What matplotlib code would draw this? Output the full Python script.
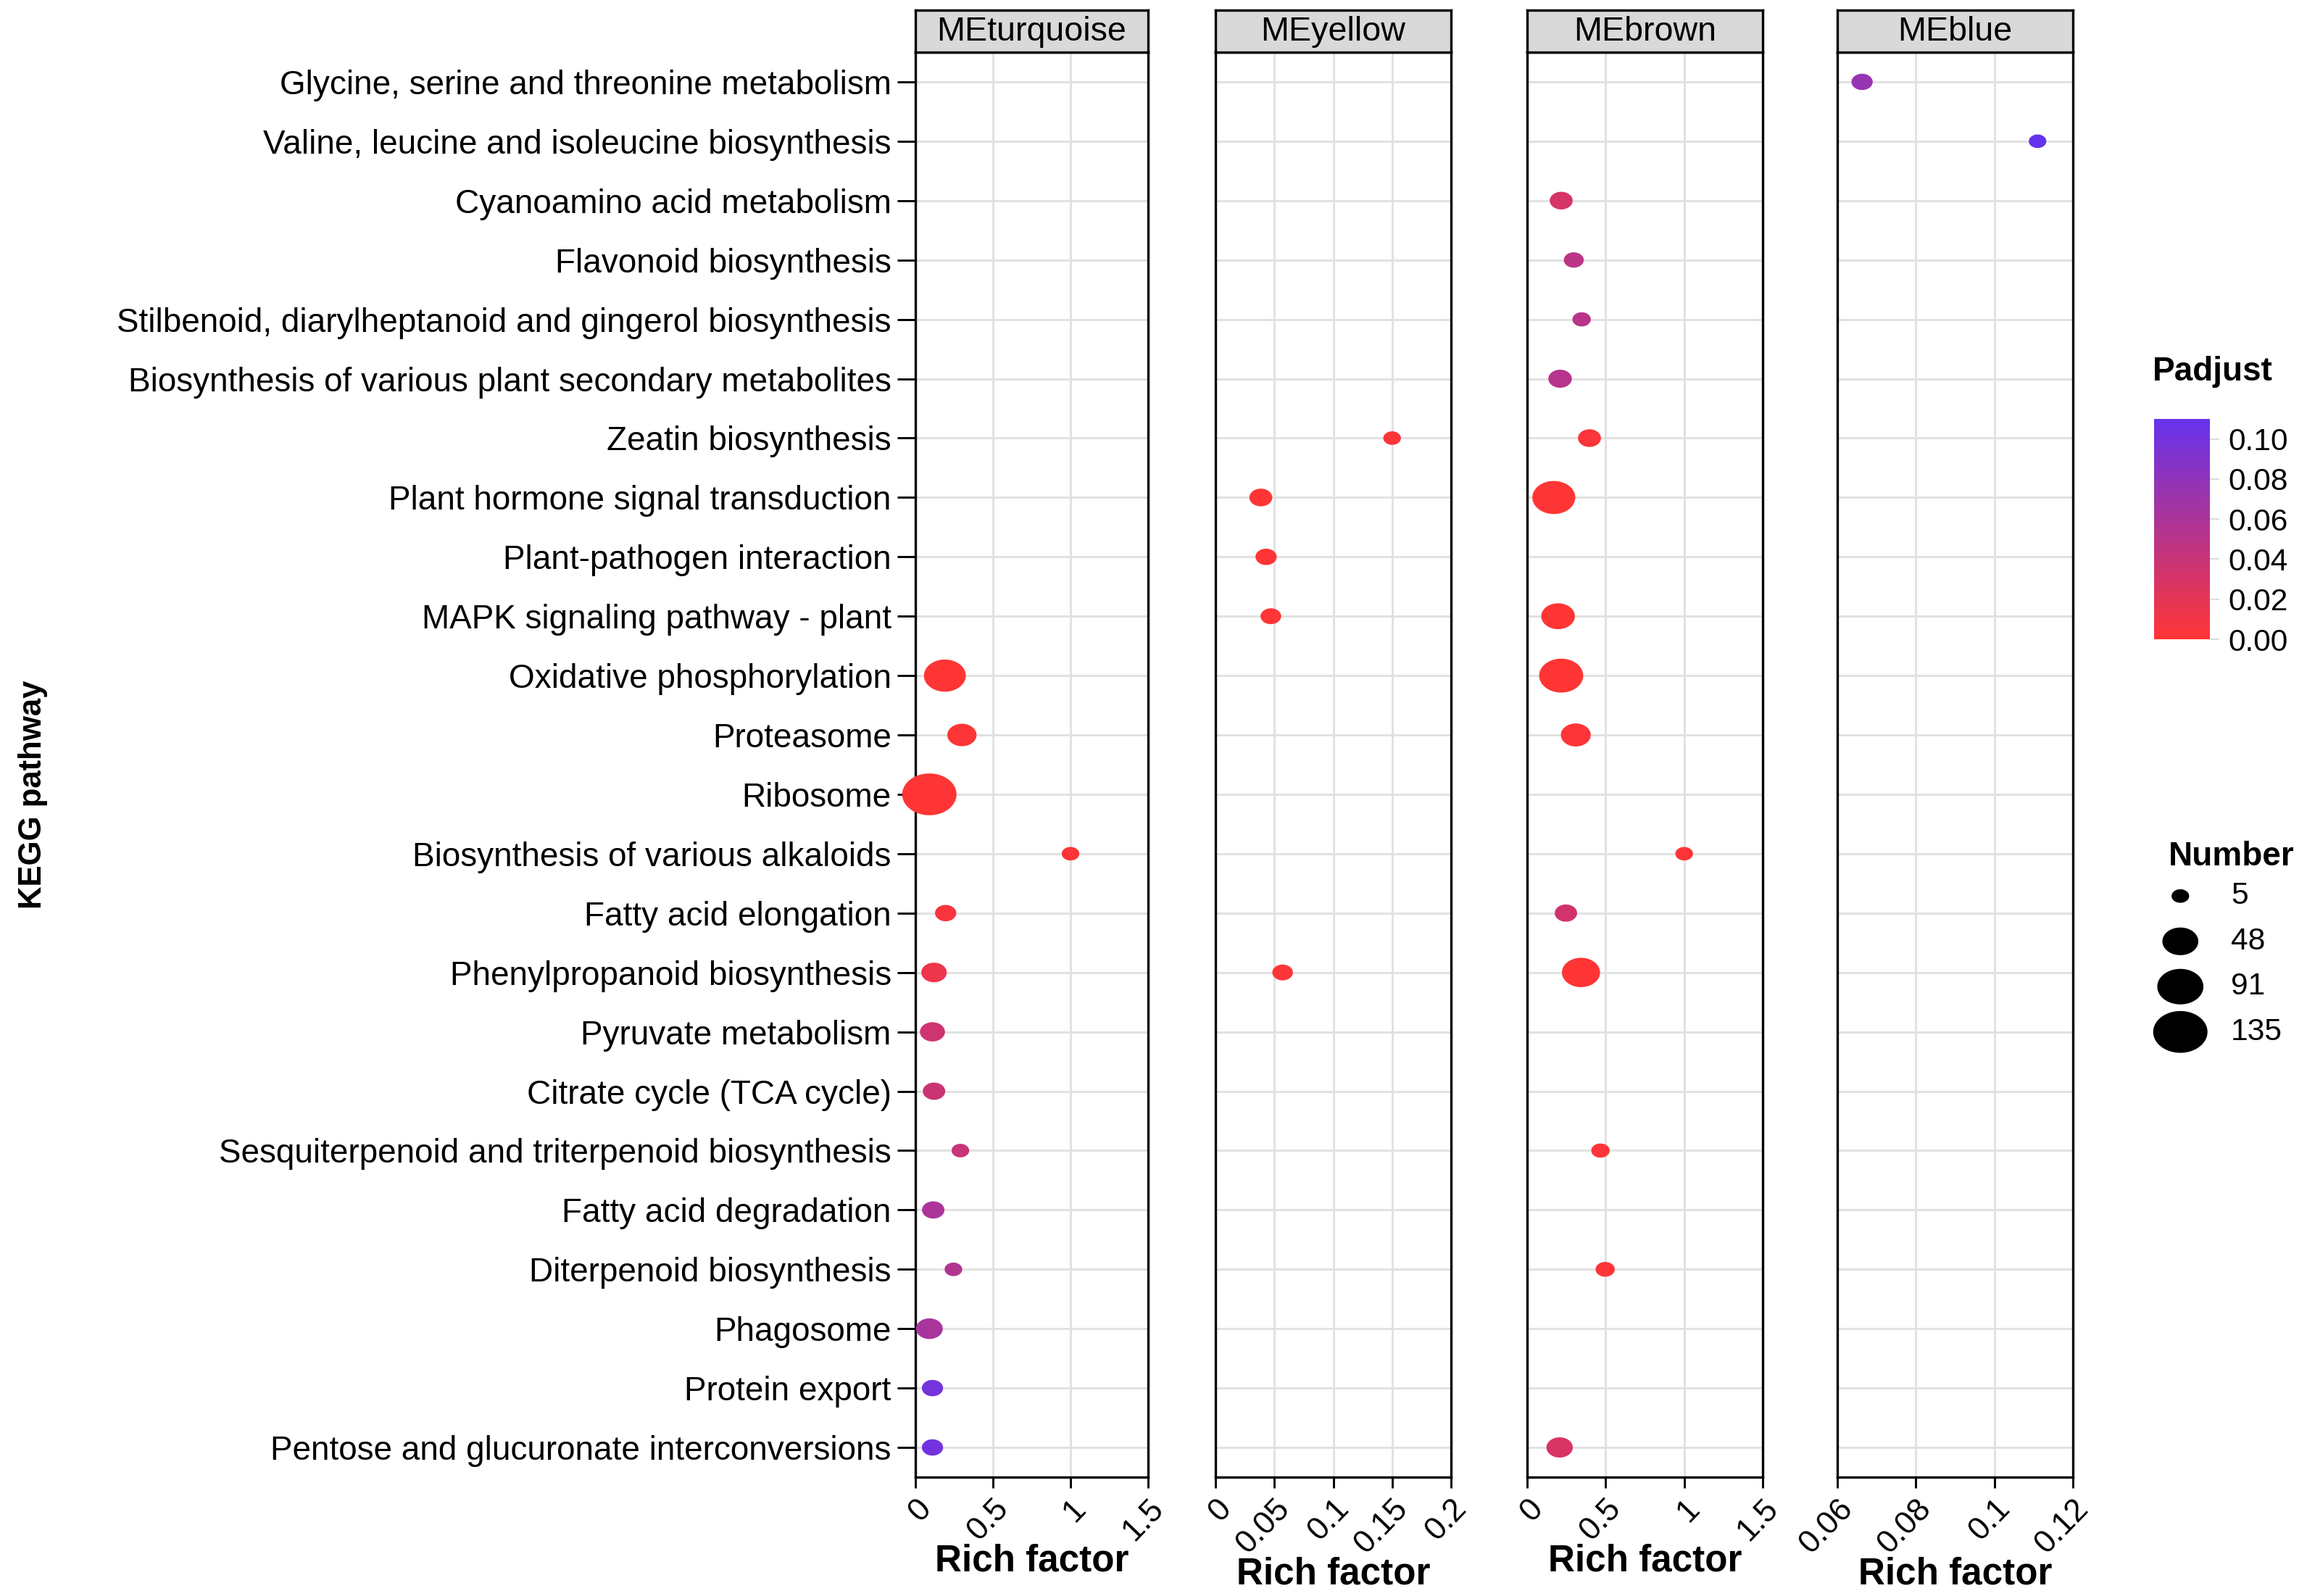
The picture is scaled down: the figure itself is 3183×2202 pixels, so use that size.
import matplotlib
matplotlib.use('Agg')
import matplotlib.pyplot as plt
import numpy as np
from matplotlib.path import Path
from matplotlib.colors import LinearSegmentedColormap, Normalize
from matplotlib.colorbar import ColorbarBase

plt.rcParams['font.family'] = ['Liberation Sans', 'DejaVu Sans']

# ---------------- data ----------------
pathways = [
    "Glycine, serine and threonine metabolism",
    "Valine, leucine and isoleucine biosynthesis",
    "Cyanoamino acid metabolism",
    "Flavonoid biosynthesis",
    "Stilbenoid, diarylheptanoid and gingerol biosynthesis",
    "Biosynthesis of various plant secondary metabolites",
    "Zeatin biosynthesis",
    "Plant hormone signal transduction",
    "Plant-pathogen interaction",
    "MAPK signaling pathway - plant",
    "Oxidative phosphorylation",
    "Proteasome",
    "Ribosome",
    "Biosynthesis of various alkaloids",
    "Fatty acid elongation",
    "Phenylpropanoid biosynthesis",
    "Pyruvate metabolism",
    "Citrate cycle (TCA cycle)",
    "Sesquiterpenoid and triterpenoid biosynthesis",
    "Fatty acid degradation",
    "Diterpenoid biosynthesis",
    "Phagosome",
    "Protein export",
    "Pentose and glucuronate interconversions",
]

modules = ["MEturquoise", "MEyellow", "MEbrown", "MEblue"]

turquoise_terms = ["Oxidative phosphorylation", "Proteasome", "Ribosome",
                   "Biosynthesis of various alkaloids", "Fatty acid elongation",
                   "Phenylpropanoid biosynthesis", "Pyruvate metabolism",
                   "Citrate cycle (TCA cycle)",
                   "Sesquiterpenoid and triterpenoid biosynthesis",
                   "Fatty acid degradation", "Diterpenoid biosynthesis",
                   "Phagosome", "Protein export",
                   "Pentose and glucuronate interconversions"]
turquoise_rich = [0.19, 0.30, 0.09, 1.00, 0.195, 0.12, 0.11, 0.12, 0.29, 0.115, 0.245, 0.09, 0.11, 0.11]
turquoise_count = [71, 27, 135, 5, 10, 18, 17, 12, 5, 12, 5, 21, 10, 10]
turquoise_padj = [0.000, 0.001, 0.000, 0.002, 0.005, 0.013, 0.035, 0.038, 0.040, 0.060, 0.055, 0.062, 0.100, 0.101]

yellow_terms = ["Zeatin biosynthesis", "Plant hormone signal transduction",
                "Plant-pathogen interaction", "MAPK signaling pathway - plant",
                "Phenylpropanoid biosynthesis"]
yellow_rich = [0.150, 0.0385, 0.043, 0.047, 0.057]
yellow_count = [5, 13, 10, 9, 9]
yellow_padj = [0.002, 0.000, 0.001, 0.001, 0.002]

brown_terms = ["Cyanoamino acid metabolism", "Flavonoid biosynthesis",
               "Stilbenoid, diarylheptanoid and gingerol biosynthesis",
               "Biosynthesis of various plant secondary metabolites",
               "Zeatin biosynthesis", "Plant hormone signal transduction",
               "MAPK signaling pathway - plant", "Oxidative phosphorylation",
               "Proteasome", "Biosynthesis of various alkaloids",
               "Fatty acid elongation", "Phenylpropanoid biosynthesis",
               "Sesquiterpenoid and triterpenoid biosynthesis",
               "Diterpenoid biosynthesis",
               "Pentose and glucuronate interconversions"]
brown_rich = [0.217, 0.297, 0.347, 0.21, 0.397, 0.17, 0.197, 0.217, 0.31, 1.00, 0.247, 0.343, 0.467, 0.497, 0.207]
brown_count = [13, 8, 6, 14, 13, 76, 40, 81, 29, 5, 12, 56, 6, 7, 20]
brown_padj = [0.030, 0.048, 0.050, 0.052, 0.003, 0.000, 0.000, 0.000, 0.002, 0.001, 0.033, 0.000, 0.002, 0.002, 0.028]

blue_terms = ["Glycine, serine and threonine metabolism",
              "Valine, leucine and isoleucine biosynthesis"]
blue_rich = [0.0663, 0.111]
blue_count = [10, 5]
blue_padj = [0.075, 0.110]

module_terms = [turquoise_terms, yellow_terms, brown_terms, blue_terms]
module_rich = [turquoise_rich, yellow_rich, brown_rich, blue_rich]
module_count = [turquoise_count, yellow_count, brown_count, blue_count]
module_padj = [turquoise_padj, yellow_padj, brown_padj, blue_padj]

x_limits = [(0, 1.5), (0, 0.2), (0, 1.5), (0.06, 0.12)]
x_ticks = [[0, 0.5, 1, 1.5], [0, 0.05, 0.1, 0.15, 0.2], [0, 0.5, 1, 1.5], [0.06, 0.08, 0.1, 0.12]]
x_ticklabels = [["0", "0.5", "1", "1.5"], ["0", "0.05", "0.1", "0.15", "0.2"],
                ["0", "0.5", "1", "1.5"], ["0.06", "0.08", "0.1", "0.12"]]

padj_ticks = [0.00, 0.02, 0.04, 0.06, 0.08, 0.10]
size_breaks = [5, 48, 91, 135]

# ---------------- layout helpers ----------------
W, H = 3183, 2202
DPI = 300
fig = plt.figure(figsize=(W / DPI, H / DPI), dpi=DPI)
fig.patch.set_facecolor('white')


def rect(x0, x1, y0, y1):
    return [x0 / W, 1 - y1 / H, (x1 - x0) / W, (y1 - y0) / H]


panel_x = [(1263, 1584), (1677, 2002), (2107, 2432), (2535, 2860)]
panel_top, panel_bottom = 72, 2038
strip_top = 14

theta = np.linspace(0, 2 * np.pi, 73)
ellipse = Path(np.column_stack([np.cos(theta), np.sin(theta) / 1.3]), closed=True)


def marker_area(n):
    w_px = 24.3 + 5.4 * (np.sqrt(np.asarray(n, float)) - np.sqrt(5))
    return (w_px * 72 / DPI) ** 2


cmap = LinearSegmentedColormap.from_list("padj", ["#FF3535", "#6633EC"])
all_padj = sum(module_padj, [])
norm = Normalize(vmin=0.0, vmax=max(all_padj))

grid_col = "#E1E1E1"
for i, mod in enumerate(modules):
    x0, x1 = panel_x[i]
    ax = fig.add_axes(rect(x0, x1, panel_top, panel_bottom))
    ax.set_xlim(*x_limits[i])
    ax.set_ylim(len(pathways) - 0.5, -0.5)
    ax.set_yticks(range(len(pathways)))
    ax.set_xticks(x_ticks[i])
    ax.grid(True, color=grid_col, lw=0.7)
    ax.set_axisbelow(True)
    ys = [pathways.index(t) for t in module_terms[i]]
    ax.scatter(module_rich[i], ys, s=marker_area(module_count[i]),
               c=module_padj[i], cmap=cmap, norm=norm, marker=ellipse,
               linewidths=0, clip_on=False, zorder=3)
    for sp in ax.spines.values():
        sp.set_linewidth(0.8)
        sp.set_color('black')
    if i == 0:
        ax.set_yticklabels(pathways, fontsize=11.0)
        ax.tick_params(axis='y', length=6, width=0.7, pad=2)
    else:
        ax.set_yticklabels([])
        ax.tick_params(axis='y', length=0)
    ax.set_xticklabels(x_ticklabels[i], fontsize=10.6)
    ax.tick_params(axis='x', length=3.5, width=0.7, pad=2)
    for lab in ax.get_xticklabels():
        lab.set_rotation(46)
        lab.set_ha('right')
        lab.set_va('top')
        lab.set_rotation_mode('anchor')
    ax.set_xlabel("Rich factor", fontsize=12.3, fontweight='bold', labelpad=-1)

    sax = fig.add_axes(rect(x0, x1, strip_top, panel_top))
    sax.set_facecolor('#D9D9D9')
    sax.set_xticks([])
    sax.set_yticks([])
    for sp in sax.spines.values():
        sp.set_linewidth(0.8)
    sax.text(0.5, 0.48, mod, ha='center', va='center', fontsize=11.2,
             transform=sax.transAxes)

fig.text(46 / W, 1 - 1096 / H, "KEGG pathway", rotation=90, ha='center',
         va='center', fontsize=10.5, fontweight='bold')

# ---------------- colour legend ----------------
fig.text(2970 / W, 1 - 513 / H, "Padjust", ha='left', va='center',
         fontsize=11, fontweight='bold')
cax = fig.add_axes(rect(2972, 3049, 578, 882))
cb = ColorbarBase(cax, cmap=cmap, norm=norm, ticks=padj_ticks)
cb.outline.set_visible(False)
cax.set_yticklabels(["%.2f" % t for t in padj_ticks], fontsize=10.2)
cax.tick_params(axis='y', length=3, width=0.5, color='#DDDDDD', pad=3)

# ---------------- size legend ----------------
fig.text(2992 / W, 1 - 1182 / H, "Number", ha='left', va='center',
         fontsize=11, fontweight='bold')
lax = fig.add_axes(rect(2950, 3183, 1205, 1455))
lax.set_xlim(0, 1)
lax.set_ylim(len(size_breaks) - 0.5, -0.5)
lax.axis('off')
lax.scatter([0.25] * len(size_breaks), range(len(size_breaks)),
            s=marker_area(size_breaks), marker=ellipse, color='black',
            linewidths=0, clip_on=False)
for k, v in enumerate(size_breaks):
    lax.text(0.55, k, str(v), ha='left', va='center', fontsize=10.2)

fig.savefig("out.png", dpi=DPI, facecolor='white')
